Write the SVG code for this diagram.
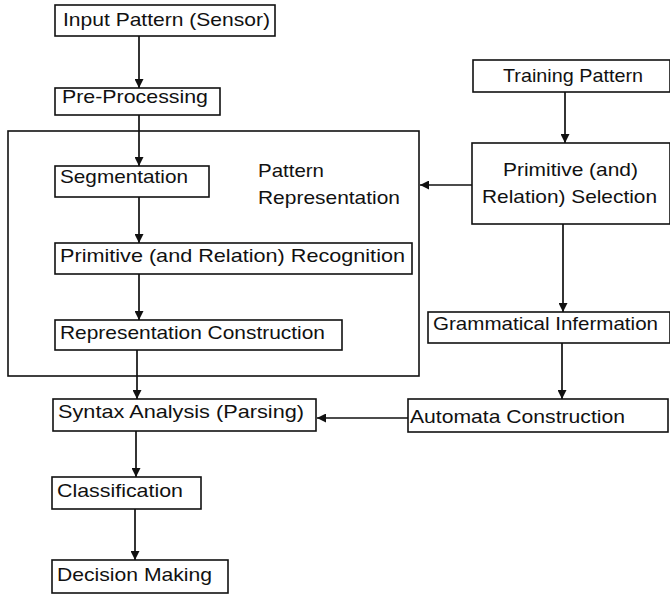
<svg xmlns="http://www.w3.org/2000/svg" width="670" height="594" viewBox="0 0 670 594">
<defs>
<style>
.box{fill:#fff;stroke:#111;stroke-width:1.6}
.frame{fill:none;stroke:#111;stroke-width:1.6}
.t{font-family:"Liberation Sans",Arial,Helvetica,sans-serif;font-size:19px;fill:#111}
.c{fill:none;stroke:#111;stroke-width:1.7}
</style>
<marker id="ah" viewBox="0 0 10 10" refX="10" refY="5" markerWidth="9" markerHeight="9" markerUnits="userSpaceOnUse" orient="auto">
<path d="M0,0 L10,5 L0,10 z" fill="#111"/>
</marker>
</defs>
<rect id="white" x="0" y="0" width="670" height="594" fill="#fff"/>
<g id="pattern-representation">
<rect class="frame" x="8" y="131" width="411" height="245"/>
<text class="t" x="258" y="177" textLength="66" lengthAdjust="spacingAndGlyphs">Pattern</text>
<text class="t" x="258" y="204" textLength="142" lengthAdjust="spacingAndGlyphs">Representation</text>
</g>
<g id="connectors">
<line class="c" x1="139" y1="36" x2="139" y2="88" marker-end="url(#ah)"/>
<line class="c" x1="139" y1="115" x2="139" y2="166" marker-end="url(#ah)"/>
<line class="c" x1="139" y1="197" x2="139" y2="243" marker-end="url(#ah)"/>
<line class="c" x1="139" y1="274" x2="139" y2="320" marker-end="url(#ah)"/>
<line class="c" x1="137" y1="350" x2="137" y2="399" marker-end="url(#ah)"/>
<line class="c" x1="136" y1="431" x2="136" y2="477" marker-end="url(#ah)"/>
<line class="c" x1="135" y1="509" x2="135" y2="560" marker-end="url(#ah)"/>
<line class="c" x1="565" y1="92" x2="565" y2="143" marker-end="url(#ah)"/>
<line class="c" x1="472" y1="185" x2="420" y2="185" marker-end="url(#ah)"/>
<line class="c" x1="563" y1="224" x2="563" y2="312" marker-end="url(#ah)"/>
<line class="c" x1="562" y1="343" x2="562" y2="399" marker-end="url(#ah)"/>
<line class="c" x1="408" y1="418" x2="317" y2="418" marker-end="url(#ah)"/>
</g>
<g id="input-pattern">
<rect class="box" x="55" y="5" width="220" height="31"/>
<text class="t" x="63" y="26" textLength="207" lengthAdjust="spacingAndGlyphs">Input Pattern (Sensor)</text>
</g>
<g id="pre-processing">
<rect class="box" x="55" y="88" width="165" height="27"/>
<text class="t" x="62" y="103" textLength="146" lengthAdjust="spacingAndGlyphs">Pre-Processing</text>
</g>
<g id="segmentation">
<rect class="box" x="55" y="166" width="154" height="31"/>
<text class="t" x="60" y="183" textLength="128" lengthAdjust="spacingAndGlyphs">Segmentation</text>
</g>
<g id="primitive-recognition">
<rect class="box" x="55" y="243" width="357" height="31"/>
<text class="t" x="60" y="262" textLength="345" lengthAdjust="spacingAndGlyphs">Primitive (and Relation) Recognition</text>
</g>
<g id="representation-construction">
<rect class="box" x="55" y="320" width="287" height="30"/>
<text class="t" x="60" y="339" textLength="265" lengthAdjust="spacingAndGlyphs">Representation Construction</text>
</g>
<g id="syntax-analysis">
<rect class="box" x="53" y="399" width="263" height="32"/>
<text class="t" x="58" y="418" textLength="246" lengthAdjust="spacingAndGlyphs">Syntax Analysis (Parsing)</text>
</g>
<g id="classification">
<rect class="box" x="52" y="477" width="149" height="32"/>
<text class="t" x="57" y="497" textLength="126" lengthAdjust="spacingAndGlyphs">Classification</text>
</g>
<g id="decision-making">
<rect class="box" x="52" y="560" width="176" height="33"/>
<text class="t" x="57" y="581" textLength="155" lengthAdjust="spacingAndGlyphs">Decision Making</text>
</g>
<g id="training-pattern">
<rect class="box" x="473" y="60" width="197" height="32"/>
<text class="t" x="503" y="82" textLength="140" lengthAdjust="spacingAndGlyphs">Training Pattern</text>
</g>
<g id="primitive-selection">
<rect class="box" x="472" y="143" width="198" height="81"/>
<text class="t" x="503" y="176" textLength="135" lengthAdjust="spacingAndGlyphs">Primitive (and)</text>
<text class="t" x="482" y="203" textLength="175" lengthAdjust="spacingAndGlyphs">Relation) Selection</text>
</g>
<g id="grammatical-information">
<rect class="box" x="428" y="312" width="242" height="31"/>
<text class="t" x="433" y="330" textLength="225" lengthAdjust="spacingAndGlyphs">Grammatical Infermation</text>
</g>
<g id="automata-construction">
<rect class="box" x="408" y="399" width="260" height="33"/>
<text class="t" x="410" y="423" textLength="215" lengthAdjust="spacingAndGlyphs">Automata Construction</text>
</g>
</svg>
